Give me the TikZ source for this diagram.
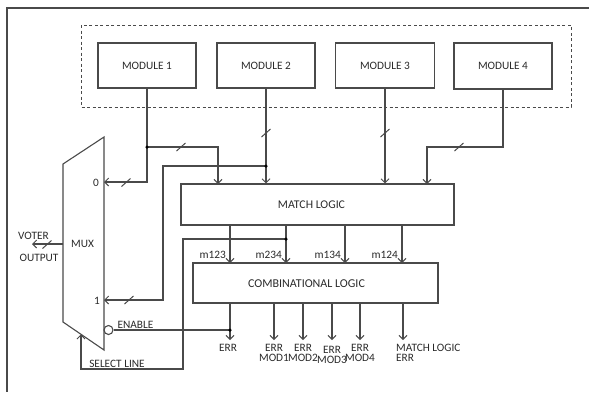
\documentclass[tikz,border=0pt]{standalone}
\usepackage{fontspec}
\setmainfont{Carlito}
\usetikzlibrary{arrows.meta,calc}
\definecolor{ln}{HTML}{4A4A4A}
\definecolor{tx}{HTML}{2A2A2A}
\tikzset{
  wire/.style={draw=ln, line width=1.1pt},
  arr/.style={wire, -{Straight Barb[length=4pt,width=8pt,line width=1pt]}},
  box/.style={draw=ln, line width=1.1pt, rectangle, inner sep=0pt, font=\fontsize{11.3}{12}\selectfont, text=tx},
  lbl/.style={font=\fontsize{11.3}{10}\selectfont, text=tx, inner sep=0pt, align=center},
  dot/.style={circle, fill=black, inner sep=0pt, minimum size=3.5pt},
  slash/.pic={\draw[ln, line width=1pt] (-4.5,4) -- (4.5,-4);}
}
\begin{document}
\begin{tikzpicture}[x=1pt,y=-1pt]
\useasboundingbox (0,0) rectangle (589,392);
% outer frame (top and left only visible)
\draw[draw=ln, line width=1.3pt] (589,8) -- (7,8) -- (7,392);
% dashed group
\draw[draw=ln, line width=1pt, dash pattern=on 3pt off 2.5pt] (81,25) rectangle (571,107);
% modules
\node[box, minimum width=98pt, minimum height=45pt] (m1) at (147,65.5) {MODULE 1};
\node[box, minimum width=98pt, minimum height=45pt] (m2) at (266,65.5) {MODULE 2};
\node[box, minimum width=99pt, minimum height=45pt] (m3) at (385,65.5) {MODULE 3};
\node[box, minimum width=98pt, minimum height=46pt] (m4) at (503,66) {MODULE 4};
% match logic and combinational logic
\node[box, minimum width=273pt, minimum height=41pt] (ml) at (317.5,204.5) {};
\node[lbl, font=\fontsize{11.8}{12}\selectfont] (mltext) at (311.5,205) {MATCH LOGIC};
\node[box, minimum width=245pt, minimum height=40pt] (cl) at (315.5,283) {};
\node[lbl, font=\fontsize{12}{12}\selectfont] (cltext) at (306.5,284) {COMBINATIONAL LOGIC};
% MUX
\draw[wire] (63,164) -- (104,137) -- (104,350) -- (63,322) -- cycle;
\coordinate (mux0) at (104,182);
\coordinate (mux1) at (104,300);
\coordinate (muxout) at (63,244);
\coordinate (muxsel) at (81,334.3);
\node[lbl] (muxl) at (82.5,244) {MUX};
\node[lbl] (in0) at (96,182.5) {0};
\node[lbl] (in1) at (97,300.5) {1};
\node[draw=ln, line width=1.1pt, circle, inner sep=0pt, minimum size=9pt] (bub) at (108.5,330) {};
% junctions
\coordinate (j1) at (m1.south |- 0,147);
\coordinate (j2) at (266,166);
\coordinate (j3) at (286,239);
\coordinate (j4) at (230,330);
% module 1
\draw[arr] (m1.south) |- (mux0);
\draw[arr] (j1) -| (218,184);
% module 2
\draw[arr] (m2.south) -- (m2.south |- ml.north);
\draw[arr] (j2) -| (163,300) -- (mux1);
% module 3
\draw[arr] (m3.south) -- (m3.south |- ml.north);
% module 4
\draw[arr] (m4.south) |- (427,147) -- (427,184);
% slashes
\pic at (126,182.5) {slash};
\pic at (181,147) {slash};
\pic at (266,133) {slash};
\pic at (385,133) {slash};
\pic at (459,147) {slash};
\pic at (129,300) {slash};
\pic at (47,244.5) {slash};
% voter output
\coordinate (vout) at (32,244);
\draw[arr] (muxout) -- (vout);
\node[lbl] (voter) at (33.5,235.5) {VOTER};
\node[lbl] (output) at (39,257.5) {OUTPUT};
% match -> combinational
\draw[arr] (230,225) -- (230,263);
\draw[arr] (286,225) -- (286,263);
\draw[arr] (345,225) -- (345,263);
\draw[arr] (402,225) -- (402,263);
\node[lbl, anchor=east] (l123) at (226,254.5) {m123};
\node[lbl, anchor=east] (l234) at (282,254.5) {m234};
\node[lbl, anchor=east] (l134) at (341,254.5) {m134};
\node[lbl, anchor=east] (l124) at (398,255) {m124};
% select line
\draw[arr] (j3) -| (183,369) -| (muxsel);
\node[lbl] (sel) at (117,363.5) {SELECT LINE};
% enable
\draw[wire] (bub.east) -- (j4);
\node[lbl] (en) at (135.5,324.5) {ENABLE};
% outputs
\draw[arr] (230,303) -- (230,340);
\draw[arr] (274,303) -- (274,340);
\draw[arr] (303,303) -- (303,340);
\draw[arr] (332,303) -- (332,340);
\draw[arr] (360,303) -- (360,340);
\draw[arr] (403,303) -- (403,340);
\node[lbl] (oerr) at (228,348) {ERR};
\node[lbl, anchor=north] (o1) at (274,344) {ERR\\MOD1};
\node[lbl, anchor=north] (o2) at (303,344) {ERR\\MOD2};
\node[lbl, anchor=north] (o3) at (332,346) {ERR\\MOD3};
\node[lbl, anchor=north] (o4) at (360,344) {ERR\\MOD4};
\node[lbl, anchor=north west, align=left] (o5) at (396,344) {MATCH LOGIC\\ERR};
% dots
\node[dot] at (j1) {};
\node[dot] at (j2) {};
\node[dot] at (j3) {};
\node[dot] at (j4) {};
\end{tikzpicture}
\end{document}
